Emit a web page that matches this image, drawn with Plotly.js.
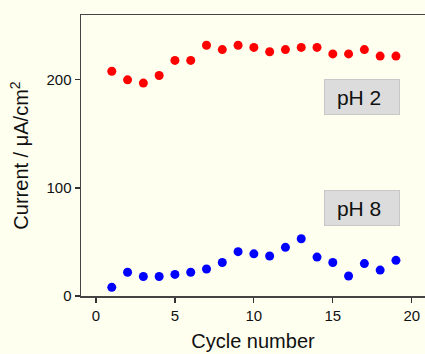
<!DOCTYPE html>
<html>
<head>
<meta charset="utf-8">
<script src="https://cdn.plot.ly/plotly-3.0.1.min.js"></script>
<style>html,body{margin:0;padding:0;background:#fffff0;}#chart{width:425px;height:354px;}</style>
</head>
<body>
<div id="chart"></div>
<script>
const cycles = [1,2,3,4,5,6,7,8,9,10,11,12,13,14,15,16,17,18,19];
const ph2Current = [208,200,197,204,218,218,232,228,232,230,226,228,230,230,224,224,228,222,222];
const ph8Current = [8,22,18,18,20,22,25,31,41,39,37,45,53,36,31,18.5,30,24,33];
const seriesNames = ["pH 2", "pH 8"];
const xTicks = [0,5,10,15,20];
const yTicks = [0,100,200];

const fontFam = "Liberation Sans, Arial, sans-serif";
const traces = [
  {x: cycles, y: ph2Current, name: seriesNames[0], mode: "markers", type: "scatter",
   marker: {color: "#ff0000", size: 9}, cliponaxis: false},
  {x: cycles, y: ph8Current, name: seriesNames[1], mode: "markers", type: "scatter",
   marker: {color: "#0000ff", size: 9}, cliponaxis: false}
];
const boxStyle = {xref: "x", yref: "y", showarrow: false, bgcolor: "#dcdcdc", bordercolor: "#c8c8c8",
  borderwidth: 1, borderpad: 2, width: 70, height: 30, align: "center",
  font: {family: fontFam, size: 21, color: "#111"}};
const layout = {
  width: 425, height: 354,
  paper_bgcolor: "#fffff0", plot_bgcolor: "#fffff0",
  margin: {l: 81, r: 0, t: 15, b: 58},
  showlegend: false,
  font: {family: fontFam, color: "#111"},
  xaxis: {range: [-0.95, 20.84], tickvals: xTicks, ticks: "outside", ticklen: 5, tickwidth: 1.2,
    tickcolor: "#333", showgrid: false, zeroline: false, showline: true, linecolor: "#444",
    linewidth: 1.5, mirror: true, tickfont: {size: 15, family: fontFam},
    title: {text: "Cycle number", font: {size: 20, family: fontFam}, standoff: 11}},
  yaxis: {range: [0, 260], tickvals: yTicks, ticks: "outside", ticklen: 5, tickwidth: 1.2,
    tickcolor: "#333", showgrid: false, zeroline: false, showline: true, linecolor: "#444",
    linewidth: 1.5, tickfont: {size: 15, family: fontFam},
    title: {text: "Current / μA/cm<sup>2</sup>", font: {size: 20, family: fontFam}, standoff: 12}},
  annotations: [
    Object.assign({}, boxStyle, {x: 16.85, y: 184.5, text: seriesNames[0] + "&nbsp;"}),
    Object.assign({}, boxStyle, {x: 16.85, y: 81.5, text: seriesNames[1] + "&nbsp;"})
  ]
};
Plotly.newPlot("chart", traces, layout, {displayModeBar: false, staticPlot: true});
</script>
</body>
</html>
